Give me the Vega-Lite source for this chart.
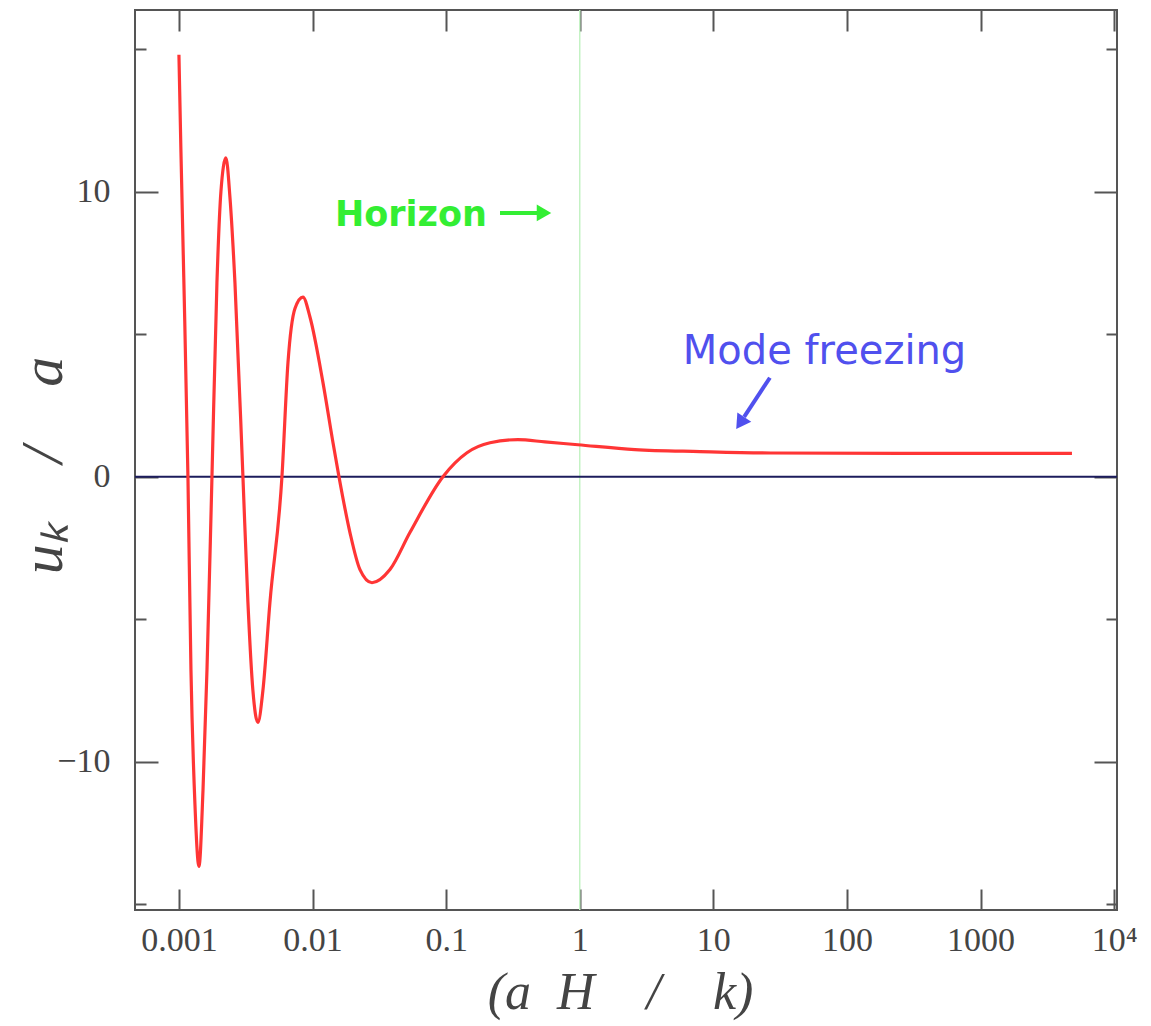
{
  "$schema": "https://vega.github.io/schema/vega-lite/v6.json",
  "width": 982,
  "height": 900,
  "autosize": "none",
  "padding": {"left": 135, "top": 10, "right": 34, "bottom": 116},
  "background": "white",
  "config": {"view": {"stroke": "#555555", "strokeWidth": 2}},
  "datasets": {
    "curve": [
      {"x": 0.001, "y": 14.8},
      {"x": 0.001034, "y": 11.5},
      {"x": 0.001087, "y": 7.0},
      {"x": 0.001168, "y": 0},
      {"x": 0.00123, "y": -6.76},
      {"x": 0.001318, "y": -11.5},
      {"x": 0.001412, "y": -13.67},
      {"x": 0.001514, "y": -11.0},
      {"x": 0.001622, "y": -6.76},
      {"x": 0.001767, "y": 0},
      {"x": 0.001925, "y": 6.8},
      {"x": 0.002062, "y": 10.0},
      {"x": 0.002248, "y": 11.18},
      {"x": 0.002409, "y": 9.8},
      {"x": 0.002626, "y": 6.8},
      {"x": 0.003013, "y": 0},
      {"x": 0.003283, "y": -4.4},
      {"x": 0.003578, "y": -7.5},
      {"x": 0.003899, "y": -8.62},
      {"x": 0.004251, "y": -7.5},
      {"x": 0.004801, "y": -4.4},
      {"x": 0.005903, "y": 0},
      {"x": 0.006548, "y": 4.0},
      {"x": 0.007387, "y": 5.9},
      {"x": 0.008477, "y": 6.3},
      {"x": 0.009566, "y": 5.6},
      {"x": 0.01197, "y": 3.3},
      {"x": 0.01422, "y": 1.2},
      {"x": 0.01577, "y": 0},
      {"x": 0.01906, "y": -1.96},
      {"x": 0.02265, "y": -3.26},
      {"x": 0.02786, "y": -3.72},
      {"x": 0.03797, "y": -3.26},
      {"x": 0.05355, "y": -1.96},
      {"x": 0.09462, "y": 0},
      {"x": 0.1432, "y": 0.84},
      {"x": 0.213, "y": 1.19},
      {"x": 0.3445, "y": 1.3},
      {"x": 0.5492, "y": 1.22},
      {"x": 0.969, "y": 1.12},
      {"x": 2.59, "y": 0.95},
      {"x": 7.94, "y": 0.88},
      {"x": 27.0, "y": 0.83},
      {"x": 249, "y": 0.82},
      {"x": 4831, "y": 0.82}
    ],
    "labels": [
      {"x": 0.01472, "y": 9.18, "text": "Horizon", "kind": "horizon"},
      {"x": 5.91, "y": 4.38, "text": "Mode freezing", "kind": "mode"}
    ],
    "shafts": [
      {"x": 0.253, "x2": 0.504, "y": 9.25, "y2": 9.25, "kind": "horizon"},
      {"x": 26.5, "x2": 17.0, "y": 3.47, "y2": 2.1, "kind": "mode"}
    ],
    "heads": [
      {"x": 0.54, "y": 9.25, "kind": "horizon", "angle": 90},
      {"x": 15.9, "y": 1.88, "kind": "mode", "angle": 214}
    ]
  },
  "layer": [
    {
      "data": {"values": [{"x": 1}]},
      "mark": {"type": "rule", "color": "#c4f2c4", "strokeWidth": 1.5},
      "encoding": {
        "x": {
          "field": "x", "type": "quantitative",
          "scale": {"type": "log", "domain": [0.000469, 10500], "nice": false},
          "axis": {
            "orient": "top", "values": [0.001, 0.01, 0.1, 1, 10, 100, 1000, 10000],
            "labels": false, "domain": false, "grid": false, "title": null,
            "tickSize": -21, "tickWidth": 2, "tickColor": "#555555"
          }
        }
      }
    },
    {
      "data": {"values": [{"y": 0}]},
      "mark": {"type": "rule", "color": "#1c1c5c", "strokeWidth": 2},
      "encoding": {
        "y": {
          "field": "y", "type": "quantitative",
          "scale": {"domain": [-15.2, 16.37], "nice": false, "zero": false},
          "axis": {
            "orient": "right", "values": [-15, -10, -5, 0, 5, 10, 15],
            "labels": false, "domain": false, "grid": false, "title": null,
            "tickSize": {"condition": {"test": "abs(datum.value) % 10 == 0", "value": -23}, "value": -11},
            "tickWidth": 2, "tickColor": "#555555"
          }
        }
      }
    },
    {
      "data": {"name": "curve"},
      "mark": {"type": "line", "color": "#ff3535", "strokeWidth": 3.2, "interpolate": "monotone"},
      "encoding": {
        "x": {
          "field": "x", "type": "quantitative",
          "scale": {"type": "log", "domain": [0.000469, 10500], "nice": false},
          "axis": {
            "orient": "bottom", "values": [0.001, 0.01, 0.1, 1, 10, 100, 1000, 10000],
            "labelExpr": "datum.value >= 10000 ? '10⁴' : format(datum.value, '~g')",
            "domain": false, "grid": false,
            "tickSize": -21, "tickWidth": 2, "tickColor": "#555555",
            "labelFont": "Liberation Serif", "labelFontSize": 34, "labelColor": "#444444",
            "labelPadding": 34, "labelFlush": false, "labelOverlap": false,
            "title": "(a\u2002H\u2002\u2002/\u2002\u2002k)",
            "titleFont": "Liberation Serif", "titleFontStyle": "italic", "titleFontWeight": "normal",
            "titleFontSize": 52, "titleColor": "#444444",
            "titleX": 485, "titleY": 82, "titleBaseline": "middle", "titleAlign": "center"
          }
        },
        "y": {
          "field": "y", "type": "quantitative",
          "scale": {"domain": [-15.2, 16.37], "nice": false, "zero": false},
          "axis": {
            "orient": "left", "values": [-15, -10, -5, 0, 5, 10, 15],
            "labelExpr": "abs(datum.value) % 10 == 0 ? datum.label : ''",
            "domain": false, "grid": false,
            "tickSize": {"condition": {"test": "abs(datum.value) % 10 == 0", "value": -23}, "value": -11},
            "tickWidth": 2, "tickColor": "#555555",
            "labelFont": "Liberation Serif", "labelFontSize": 34, "labelColor": "#444444",
            "labelPadding": 48, "labelFlush": false, "labelOverlap": false,
            "title": "u\u2096\u2002\u2002/\u2002\u2002a",
            "titleFont": "Liberation Serif", "titleFontStyle": "italic", "titleFontWeight": "normal",
            "titleFontSize": 60, "titleColor": "#444444",
            "titleX": -92, "titleY": 455, "titleAngle": -90, "titleBaseline": "middle", "titleAlign": "center"
          }
        }
      }
    },
    {
      "data": {"name": "shafts"},
      "mark": {"type": "rule", "strokeWidth": 4},
      "encoding": {
        "x": {"field": "x", "type": "quantitative", "scale": {"type": "log", "domain": [0.000469, 10500], "nice": false}, "axis": null},
        "x2": {"field": "x2"},
        "y": {"field": "y", "type": "quantitative", "scale": {"domain": [-15.2, 16.37], "nice": false, "zero": false}, "axis": null},
        "y2": {"field": "y2"},
        "color": {"field": "kind", "type": "nominal", "scale": {"domain": ["horizon", "mode"], "range": ["#33ee33", "#5050ee"]}, "legend": null}
      }
    },
    {
      "data": {"name": "heads"},
      "mark": {"type": "point", "shape": "triangle-up", "filled": true, "opacity": 1, "size": 280},
      "encoding": {
        "x": {"field": "x", "type": "quantitative", "scale": {"type": "log", "domain": [0.000469, 10500], "nice": false}, "axis": null},
        "y": {"field": "y", "type": "quantitative", "scale": {"domain": [-15.2, 16.37], "nice": false, "zero": false}, "axis": null},
        "angle": {"field": "angle", "type": "quantitative", "scale": null},
        "color": {"field": "kind", "type": "nominal", "scale": {"domain": ["horizon", "mode"], "range": ["#33ee33", "#5050ee"]}, "legend": null}
      }
    },
    {
      "data": {"name": "labels"},
      "transform": [{"filter": "datum.kind == 'horizon'"}],
      "mark": {"type": "text", "align": "left", "baseline": "middle", "font": "DejaVu Sans", "fontWeight": "bold", "fontSize": 35},
      "encoding": {
        "x": {"field": "x", "type": "quantitative", "scale": {"type": "log", "domain": [0.000469, 10500], "nice": false}, "axis": null},
        "y": {"field": "y", "type": "quantitative", "scale": {"domain": [-15.2, 16.37], "nice": false, "zero": false}, "axis": null},
        "text": {"field": "text"},
        "color": {"field": "kind", "type": "nominal", "scale": {"domain": ["horizon", "mode"], "range": ["#33ee33", "#5050ee"]}, "legend": null}
      }
    },
    {
      "data": {"name": "labels"},
      "transform": [{"filter": "datum.kind == 'mode'"}],
      "mark": {"type": "text", "align": "left", "baseline": "middle", "font": "DejaVu Sans", "fontWeight": "normal", "fontSize": 40},
      "encoding": {
        "x": {"field": "x", "type": "quantitative", "scale": {"type": "log", "domain": [0.000469, 10500], "nice": false}, "axis": null},
        "y": {"field": "y", "type": "quantitative", "scale": {"domain": [-15.2, 16.37], "nice": false, "zero": false}, "axis": null},
        "text": {"field": "text"},
        "color": {"field": "kind", "type": "nominal", "scale": {"domain": ["horizon", "mode"], "range": ["#33ee33", "#5050ee"]}, "legend": null}
      }
    }
  ],
  "resolve": {"axis": {"x": "independent", "y": "independent"}}
}
